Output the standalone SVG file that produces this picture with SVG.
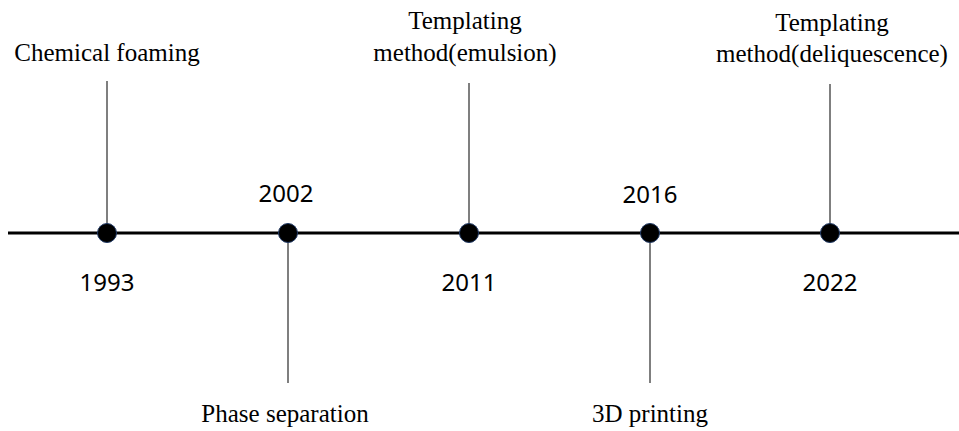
<svg xmlns="http://www.w3.org/2000/svg" width="959" height="431" viewBox="0 0 959 431">
<style>
.lbl{font-family:"Liberation Serif","Times New Roman",serif;font-size:25px;fill:#000;text-anchor:middle}
.yr{font-family:"Noto Sans","Open Sans",sans-serif;font-size:24px;fill:#000;text-anchor:middle}
.stem{stroke:#555;stroke-width:1.5;fill:none}
.dot{fill:#000;stroke:#1f3864;stroke-width:1}
</style>
<rect width="959" height="431" fill="#fff"/>
<g id="connectors">
<line x1="8" y1="233" x2="959" y2="233" stroke="#000" stroke-width="3"/>
<line class="stem" x1="107" y1="81" x2="107" y2="233"/>
<line class="stem" x1="288" y1="233" x2="288" y2="383"/>
<line class="stem" x1="469" y1="83" x2="469" y2="233"/>
<line class="stem" x1="650" y1="233" x2="650" y2="383"/>
<line class="stem" x1="830" y1="84" x2="830" y2="233"/>
</g>
<g id="n1993">
<circle class="dot" cx="107" cy="233" r="9.5"/>
<text class="yr" x="107" y="291">1993</text>
<text class="lbl" x="107" y="61">Chemical foaming</text>
</g>
<g id="n2002">
<circle class="dot" cx="288" cy="233" r="9.5"/>
<text class="yr" x="286" y="202">2002</text>
<text class="lbl" x="285" y="422">Phase separation</text>
</g>
<g id="n2011">
<circle class="dot" cx="469" cy="233" r="9.5"/>
<text class="yr" x="469" y="291">2011</text>
<text class="lbl" x="465" y="29">Templating</text>
<text class="lbl" x="465" y="61">method(emulsion)</text>
</g>
<g id="n2016">
<circle class="dot" cx="650" cy="233" r="9.5"/>
<text class="yr" x="650" y="203">2016</text>
<text class="lbl" x="650" y="422">3D printing</text>
</g>
<g id="n2022">
<circle class="dot" cx="830" cy="233" r="9.5"/>
<text class="yr" x="830" y="291">2022</text>
<text class="lbl" x="832" y="31">Templating</text>
<text class="lbl" x="832" y="62">method(deliquescence)</text>
</g>
</svg>
